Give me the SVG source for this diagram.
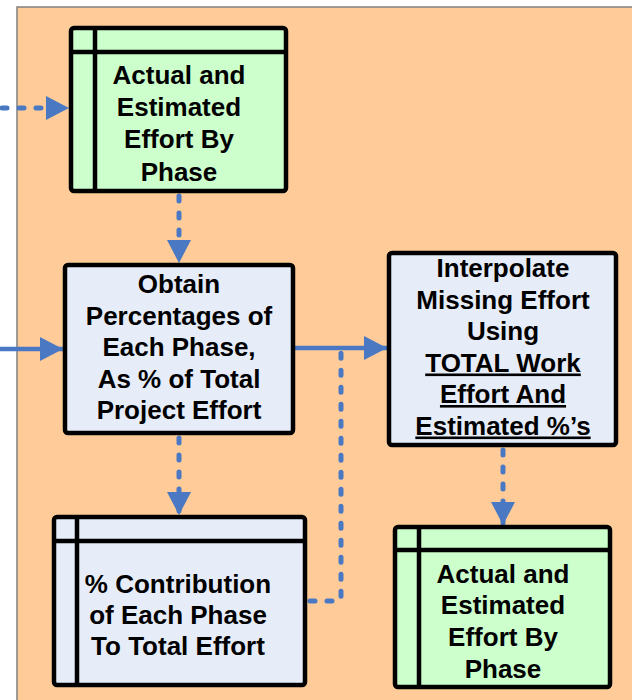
<svg xmlns="http://www.w3.org/2000/svg" width="632" height="700" viewBox="0 0 632 700">
  <style>
    .box { stroke: #000; stroke-width: 4.5; }
    .data { fill: #CCFFCC; }
    .proc { fill: #E6ECF8; }
    .sep { stroke: #000; stroke-width: 4.5; fill: none; }
    text { font-family: "Liberation Sans", Arial, sans-serif; font-weight: bold; font-size: 26px; fill: #000; text-anchor: middle; }
    .u { text-decoration: underline; }
    .flow { stroke: #4A78C2; stroke-width: 4.5; fill: none; }
    .dot { stroke-width: 5; stroke-dasharray: 5 12; stroke-linecap: round; }
  </style>
  <defs>
    <marker id="arrow" markerUnits="userSpaceOnUse" markerWidth="23" markerHeight="24" viewBox="0 0 23 24" refX="23" refY="12" orient="auto">
      <path d="M0,0 L23,12 L0,24 Z" fill="#4A78C2"/>
    </marker>
  </defs>

  <!-- swimlane background -->
  <rect x="17" y="7" width="620" height="700" fill="#FFCC99"/>
  <path d="M17,700 V7 H632" fill="none" stroke="#808080" stroke-width="1.5"/>

  <g id="connectors">
    <line class="flow dot" x1="2" y1="108" x2="69" y2="108" marker-end="url(#arrow)"/>
    <line class="flow dot" x1="179" y1="196" x2="179" y2="263" marker-end="url(#arrow)"/>
    <line class="flow" x1="0" y1="349" x2="63" y2="349" marker-end="url(#arrow)"/>
    <line class="flow" x1="295" y1="348" x2="387" y2="348" marker-end="url(#arrow)"/>
    <line class="flow dot" x1="179" y1="438" x2="179" y2="515" marker-end="url(#arrow)"/>
    <path class="flow dot" d="M310,601 H337 Q341,601 341,597 V353"/>
    <line class="flow dot" x1="503" y1="450" x2="503" y2="525" marker-end="url(#arrow)"/>
  </g>

  <g id="effort-in">
    <rect class="box data" x="71" y="28" width="215" height="163" rx="3"/>
    <path class="sep" d="M71,52 H286 M95,28 V191"/>
    <text x="179" y="84">Actual and</text>
    <text x="179" y="116">Estimated</text>
    <text x="179" y="148">Effort By</text>
    <text x="179" y="181">Phase</text>
  </g>

  <g id="obtain-percentages">
    <rect class="box proc" x="65" y="265" width="228" height="168" rx="3"/>
    <text x="179" y="293">Obtain</text>
    <text x="179" y="324.5">Percentages of</text>
    <text x="179" y="356">Each Phase,</text>
    <text x="179" y="387.5">As % of Total</text>
    <text x="179" y="419">Project Effort</text>
  </g>

  <g id="interpolate">
    <rect class="box proc" x="389" y="253" width="227" height="192" rx="3"/>
    <text x="503" y="277">Interpolate</text>
    <text x="503" y="308.5">Missing Effort</text>
    <text x="503" y="340">Using</text>
    <text class="u" x="503" y="371.5">TOTAL Work</text>
    <text class="u" x="503" y="403">Effort And</text>
    <text class="u" x="503" y="434.5">Estimated %’s</text>
  </g>

  <g id="contribution">
    <rect class="box proc" x="54" y="517" width="251" height="168" rx="3"/>
    <path class="sep" d="M54,541 H305 M77,517 V685"/>
    <text x="178" y="593">% Contribution</text>
    <text x="178" y="624">of Each Phase</text>
    <text x="178" y="655">To Total Effort</text>
  </g>

  <g id="effort-out">
    <rect class="box data" x="395" y="527" width="215" height="160" rx="3"/>
    <path class="sep" d="M395,550 H610 M419,527 V687"/>
    <text x="503" y="583">Actual and</text>
    <text x="503" y="614">Estimated</text>
    <text x="503" y="646">Effort By</text>
    <text x="503" y="678">Phase</text>
  </g>
</svg>
